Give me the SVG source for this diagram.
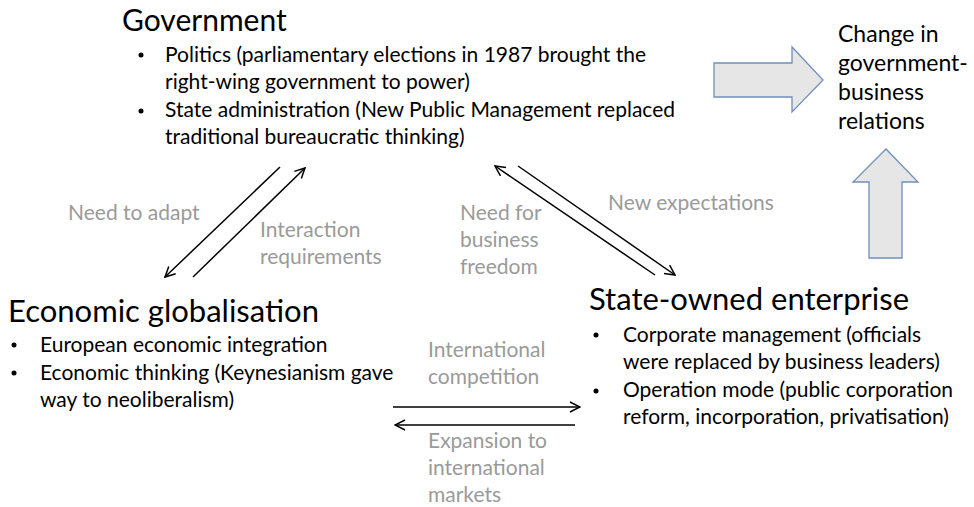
<svg xmlns="http://www.w3.org/2000/svg" width="974" height="507" viewBox="0 0 974 507">
<style>
text{font-family:Lato,"Liberation Sans",sans-serif;fill:#000}
.t{font-size:31px}
.b{font-size:21px}
.h{font-size:23px}
.g{font-size:21px;fill:#9a9a9a}
.d{fill:#000}
.c{fill:none;stroke:#000;stroke-width:1.5}
.big{fill:#e6e6e6;stroke:#6f8fbd;stroke-width:1.3}
</style>
<defs>
<marker id="ah" viewBox="0 0 12 12" refX="11" refY="6" markerWidth="12" markerHeight="12" markerUnits="userSpaceOnUse" orient="auto">
<path d="M1,1 L11,6 L1,11" fill="none" stroke="#000" stroke-width="1.5"/>
</marker>
</defs>
<rect width="974" height="507" fill="#fff"/>
<g id="government">
<text class="t" x="122" y="31" style="font-size:30px">Government</text>
<circle class="d" cx="141" cy="55" r="2.5"/>
<text class="b" x="165" y="62">Politics (parliamentary elections in 1987 brought the</text>
<text class="b" x="165" y="89">right-wing government to power)</text>
<circle class="d" cx="141" cy="111" r="2.5"/>
<text class="b" x="165" y="117">State administration (New Public Management replaced</text>
<text class="b" x="165" y="144">traditional bureaucratic thinking)</text>
</g>
<g id="change">
<text class="h" x="838" y="42">Change in</text>
<text class="h" x="838" y="71">government-</text>
<text class="h" x="838" y="100">business</text>
<text class="h" x="838" y="129">relations</text>
</g>
<g id="globalisation">
<text class="t" x="8" y="322">Economic globalisation</text>
<circle class="d" cx="14" cy="345" r="2.5"/>
<text class="b" x="40" y="352">European economic integration</text>
<circle class="d" cx="14" cy="373" r="2.5"/>
<text class="b" x="40" y="380">Economic thinking (Keynesianism gave</text>
<text class="b" x="40" y="407">way to neoliberalism)</text>
</g>
<g id="soe">
<text class="t" x="589" y="310">State-owned enterprise</text>
<circle class="d" cx="596" cy="335" r="2.5"/>
<text class="b" x="623" y="342">Corporate management (officials</text>
<text class="b" x="623" y="369">were replaced by business leaders)</text>
<circle class="d" cx="596" cy="391" r="2.5"/>
<text class="b" x="623" y="397">Operation mode (public corporation</text>
<text class="b" x="623" y="424">reform, incorporation, privatisation)</text>
</g>
<g id="connectors">
<path class="big" d="M714,63 L792,63 L792,47 L823,80 L792,112 L792,97 L714,97 Z"/>
<path class="big" d="M869,258 L869,182 L853,182 L886,149 L918,182 L902,182 L902,258 Z"/>
<line class="c" x1="280" y1="167" x2="165" y2="277" marker-end="url(#ah)"/>
<line class="c" x1="193" y1="277" x2="305" y2="168" marker-end="url(#ah)"/>
<line class="c" x1="655" y1="275" x2="495" y2="166" marker-end="url(#ah)"/>
<line class="c" x1="518" y1="166" x2="675" y2="275" marker-end="url(#ah)"/>
<line class="c" x1="393" y1="407" x2="580" y2="407" marker-end="url(#ah)"/>
<line class="c" x1="575" y1="425" x2="395" y2="425" marker-end="url(#ah)"/>
<text class="g" x="68" y="220">Need to adapt</text>
<text class="g" x="260" y="237">Interaction</text>
<text class="g" x="260" y="264">requirements</text>
<text class="g" x="460" y="220">Need for</text>
<text class="g" x="460" y="247">business</text>
<text class="g" x="460" y="274">freedom</text>
<text class="g" x="608" y="210">New expectations</text>
<text class="g" x="428" y="357">International</text>
<text class="g" x="428" y="384">competition</text>
<text class="g" x="428" y="448">Expansion to</text>
<text class="g" x="428" y="475">international</text>
<text class="g" x="428" y="502">markets</text>
</g>
</svg>
